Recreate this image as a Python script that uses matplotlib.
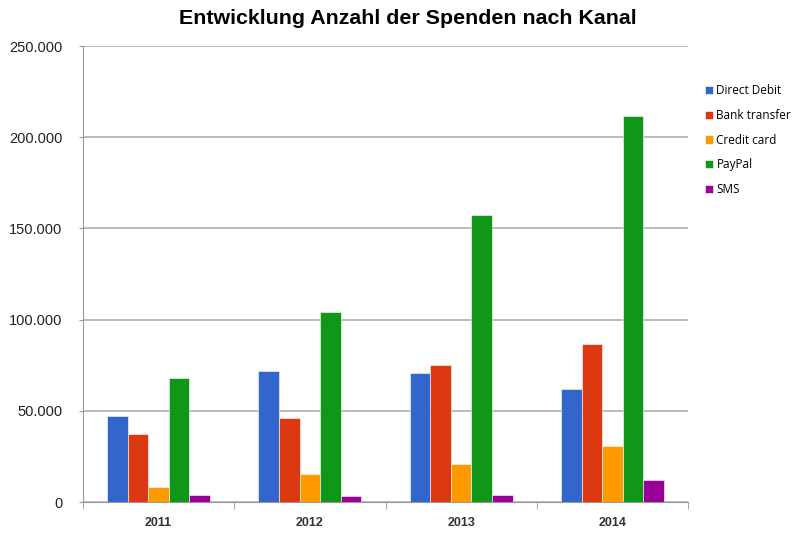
import matplotlib.pyplot as plt
import numpy as np
from matplotlib.ticker import FuncFormatter

years = ["2011", "2012", "2013", "2014"]
direct_debit = [47000, 71800, 70500, 61800]
bank_transfer = [37100, 45800, 75200, 86400]
credit_card = [8000, 15200, 20800, 30700]
paypal = [68000, 103900, 157600, 211400]
sms = [3800, 3300, 3800, 12000]

series = [
    ("Direct Debit", direct_debit, "#3366cc"),
    ("Bank transfer", bank_transfer, "#dc3912"),
    ("Credit card", credit_card, "#ff9900"),
    ("PayPal", paypal, "#109618"),
    ("SMS", sms, "#990099"),
]


def thousands(v, pos):
    return f"{int(v):,}".replace(",", ".")


def run():
    plt.rcParams["font.family"] = ["Liberation Sans", "DejaVu Sans"]
    fig = plt.figure(figsize=(8, 5.38), dpi=100)
    ax = fig.add_axes([83 / 800, 1 - 502 / 538, (688 - 83) / 800, (502 - 46) / 538])

    x = np.arange(len(years))
    width = 0.136
    for i, (name, vals, color) in enumerate(series):
        ax.bar(x + (i - 2) * width, vals, width, color=color, label=name,
               edgecolor="white", linewidth=0.4, zorder=3)

    ax.set_xlim(-0.5, len(years) - 0.5)
    ax.set_ylim(0, 250000)
    ax.set_yticks(np.arange(0, 250001, 50000))
    ax.yaxis.set_major_formatter(FuncFormatter(thousands))
    ax.set_xticks(x)
    ax.set_xticklabels(years, fontsize=9, fontweight="bold", color="#333333")
    ax.set_xticks(np.arange(-0.5, len(years), 1), minor=True)
    ax.tick_params(axis="x", which="major", length=0, pad=11)
    ax.tick_params(axis="x", which="minor", length=5, color="#999999")
    ax.tick_params(axis="y", length=3, color="#999999", labelsize=10.5,
                   labelcolor="#222222", pad=12)
    ax.grid(axis="y", color="#b0b0b0", linewidth=1.2, zorder=0)

    for s in ["top", "right"]:
        ax.spines[s].set_visible(False)
    for s in ["left", "bottom"]:
        ax.spines[s].set_color("#999999")

    fig.text(0.51, 0.966, "Entwicklung Anzahl der Spenden nach Kanal",
             ha="center", va="center", fontsize=15.4, fontweight="bold")

    ax.legend(loc="upper left", bbox_to_anchor=(1.01, 0.94), frameon=False,
              handlelength=0.7, handleheight=0.7, handletextpad=0.3,
              labelspacing=1.0, prop={"family": "Open Sans", "size": 8.5})

    fig.savefig("out.png", dpi=100)


if __name__ == "__main__":
    run()
